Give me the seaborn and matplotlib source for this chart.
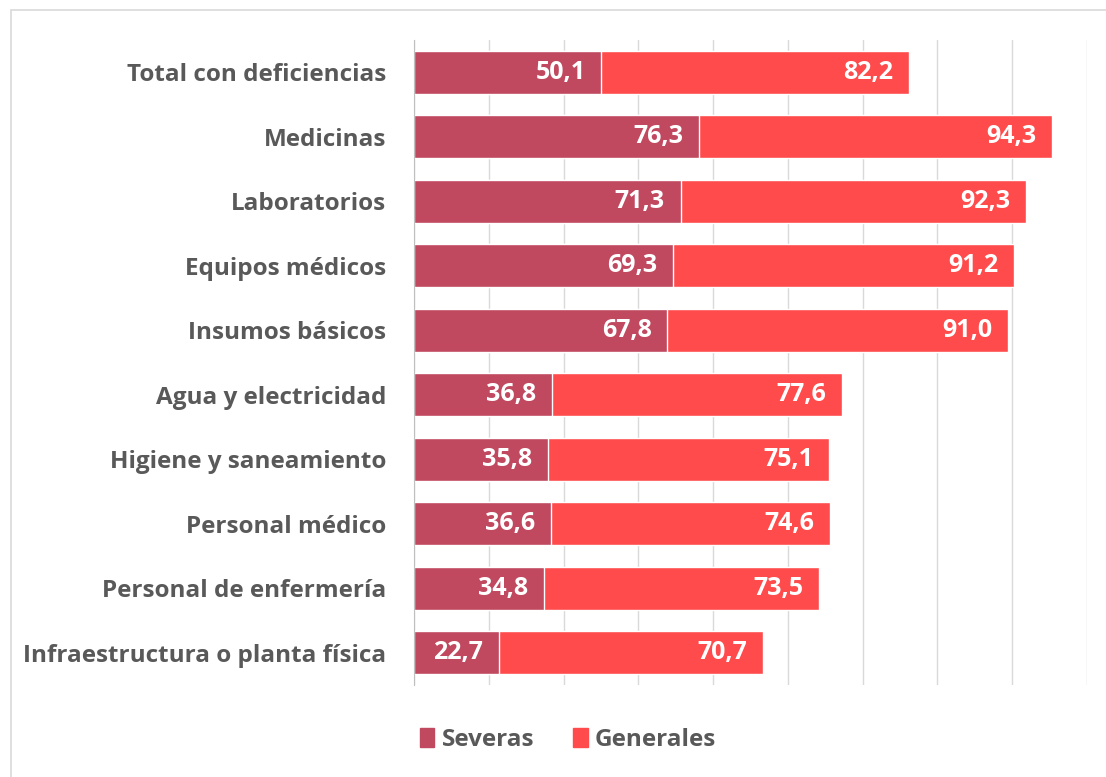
import numpy as np
import pandas as pd
import matplotlib.pyplot as plt
import seaborn as sns
from matplotlib.patches import Rectangle, Patch

categorias = ["Total con deficiencias", "Medicinas", "Laboratorios", "Equipos médicos",
              "Insumos básicos", "Agua y electricidad", "Higiene y saneamiento",
              "Personal médico", "Personal de enfermería", "Infraestructura o planta física"]
severas = [50.1, 76.3, 71.3, 69.3, 67.8, 36.8, 35.8, 36.6, 34.8, 22.7]
generales = [82.2, 94.3, 92.3, 91.2, 91.0, 77.6, 75.1, 74.6, 73.5, 70.7]

c_sev = "#C0485F"
c_gen = "#FF4B4B"
grey = "#595959"

sns.set_style("white")
plt.rcParams["font.family"] = ["Open Sans", "DejaVu Sans"]

df = pd.DataFrame({"cat": categorias, "sev": severas, "gen": generales})
df["total"] = df["sev"] + df["gen"]

fig = plt.figure(figsize=(11.06, 7.77), dpi=100)
ax = fig.add_axes([414 / 1106, 1 - 685 / 777, (1087 - 414) / 1106, (685 - 40) / 777])

sns.barplot(data=df, y="cat", x="total", color=c_gen, saturation=1, width=0.67, ax=ax, orient="h")
sns.barplot(data=df, y="cat", x="sev", color=c_sev, saturation=1, width=0.67, ax=ax, orient="h")

for i, (s, g) in enumerate(zip(severas, generales)):
    ax.text(s - 4.2, i, f"{s:.1f}".replace(".", ","), ha="right", va="center",
            color="white", fontsize=18, fontweight="bold")
    ax.text(s + g - 4.2, i, f"{g:.1f}".replace(".", ","), ha="right", va="center",
            color="white", fontsize=18, fontweight="bold")

ax.set_xlim(0, 180)
ax.set_ylim(9.5, -0.5)
ax.set_xticks(np.arange(0, 181, 20))
ax.set_xticklabels([])
ax.xaxis.grid(True, color="#D9D9D9", linewidth=1)
ax.set_axisbelow(True)
ax.tick_params(axis="x", length=0)
ax.tick_params(axis="y", length=0, pad=20)
for lbl in ax.get_yticklabels():
    lbl.set_fontsize(17.5)
    lbl.set_fontweight("bold")
    lbl.set_color(grey)
ax.set_xlabel("")
ax.set_ylabel("")
for sp in ["top", "right", "bottom"]:
    ax.spines[sp].set_visible(False)
ax.spines["left"].set_color("#BFBFBF")

handles = [Patch(color=c_sev, label="Severas"), Patch(color=c_gen, label="Generales")]
leg = fig.legend(handles=handles, loc="center", bbox_to_anchor=(568 / 1106, 1 - 740 / 777),
                 ncol=2, frameon=False, fontsize=17.5, handlelength=0.6, handleheight=0.8,
                 handletextpad=0.3, columnspacing=1.6)
for t in leg.get_texts():
    t.set_color(grey)
    t.set_fontweight("bold")

fig.patches.append(Rectangle((11 / 1106, -0.1), 1.2, 1 - 10 / 777 + 0.1, transform=fig.transFigure,
                             fill=False, edgecolor="#D9D9D9", linewidth=1.2))

fig.savefig("out.png", dpi=100)
